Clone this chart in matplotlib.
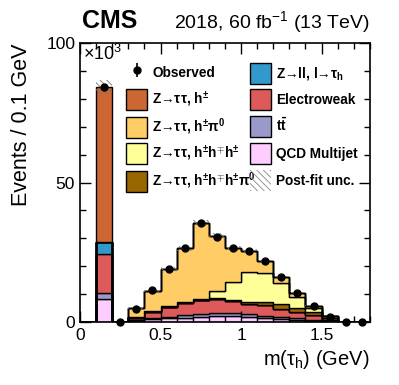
import numpy as np
import matplotlib
matplotlib.use("Agg")
import matplotlib.pyplot as plt
from matplotlib.patches import Patch
from matplotlib.ticker import MultipleLocator

plt.rcParams['font.family'] = ['Liberation Sans', 'DejaVu Sans']
plt.rcParams['mathtext.fontset'] = 'custom'
plt.rcParams['mathtext.rm'] = 'Liberation Sans'
plt.rcParams['mathtext.it'] = 'Liberation Sans:italic'
plt.rcParams['mathtext.bf'] = 'Liberation Sans:bold'
plt.rcParams['hatch.linewidth'] = 0.6

# bins of m(tau_h), 0 - 1.8 GeV in 0.1 steps (values in units of 10^3 events)
edges = np.round(np.arange(0, 1.81, 0.1), 2)

qcd = [0, 8.1, 0, 0.4, 1.0, 1.3, 1.6, 1.8, 2.0, 2.0, 1.8, 1.5, 1.2, 0.9, 0.5, 0.2, 0, 0]
ttbar = [0, 2.4, 0, 0.2, 0.4, 0.6, 0.8, 1.0, 1.1, 1.1, 1.0, 0.8, 0.7, 0.6, 0.4, 0.1, 0, 0]
ewk = [0, 13.8, 0, 1.0, 2.3, 3.4, 4.5, 5.0, 5.1, 4.6, 3.7, 3.7, 2.8, 2.0, 1.5, 0.5, 0, 0]
zll = [0, 4.5, 0, 0, 0, 0, 0, 0, 0, 0, 0, 0, 0, 0, 0, 0, 0, 0]
h3pi0 = [0, 0, 0, 0.2, 0.1, 0.1, 0.1, 0.2, 0.3, 0.3, 0.8, 1.3, 1.6, 1.6, 1.3, 0.8, 0, 0]
h3 = [0, 0, 0, 0, 0, 0.3, 0.3, 0.3, 2.7, 6.2, 10.7, 10.2, 7.6, 4.0, 1.2, 0.4, 0, 0]
h1pi0 = [0, 0, 0, 3.1, 7.4, 13.3, 19.1, 27.1, 19.8, 12.2, 7.4, 4.2, 2.1, 1.2, 1.0, 0.2, 0, 0]
h1 = [0, 55.3, 0, 0, 0, 0, 0, 0, 0, 0, 0, 0, 0, 0, 0, 0, 0, 0]

observed = [np.nan, 84.1, 0.05, 4.8, 11.4, 19.1, 26.4, 35.4, 30.6, 26.4, 25.3,
            21.9, 16.2, 10.3, 5.9, 1.9, 0.05, 0.05]

unc_frac = 0.03

lab_h1 = r"Z→ττ, h$^{\mathbf{\pm}}$"
lab_h1pi0 = r"Z→ττ, h$^{\mathbf{\pm}}$π$^{\mathbf{0}}$"
lab_h3 = r"Z→ττ, h$^{\mathbf{\pm}}$h$^{\mathbf{\mp}}$h$^{\mathbf{\pm}}$"
lab_h3pi0 = r"Z→ττ, h$^{\mathbf{\pm}}$h$^{\mathbf{\mp}}$h$^{\mathbf{\pm}}$π$^{\mathbf{0}}$"
lab_zll = r"Z→ll, l→τ$_{\mathbf{h}}$"
lab_tt = r"t$\mathbf{\bar{t}}$"

stack = [
    (qcd, "#ffccff", "QCD Multijet"),
    (ttbar, "#9999cc", lab_tt),
    (ewk, "#de5a5a", "Electroweak"),
    (zll, "#3399cc", lab_zll),
    (h3pi0, "#996600", lab_h3pi0),
    (h3, "#ffff99", lab_h3),
    (h1pi0, "#ffcc66", lab_h1pi0),
    (h1, "#cc6633", lab_h1),
]

fig = plt.figure(figsize=(3.99, 3.85), dpi=100)
ax = fig.add_axes([0.2005, 0.1636, 0.7265, 0.7247])

bottom = np.zeros(len(edges) - 1)
handles = {}
for vals, col, lab in stack:
    vals = np.array(vals, dtype=float)
    top = bottom + vals
    ax.stairs(top, edges, baseline=bottom, fill=True, facecolor=col,
              edgecolor="black", linewidth=1.0)
    handles[lab] = Patch(facecolor=col, edgecolor="black", linewidth=1.0, label=lab)
    bottom = top

total = bottom
ax.stairs(total * (1 + unc_frac), edges, baseline=total * (1 - unc_frac), fill=True,
          facecolor="none", edgecolor="#777777", hatch="\\\\\\\\\\", linewidth=0)
unc_patch = Patch(facecolor="none", edgecolor="#888888", hatch="\\\\\\\\\\",
                  linewidth=0, label="Post-fit unc.")

centers = 0.5 * (edges[:-1] + edges[1:])
obs = np.array(observed)
obs_err = np.sqrt(np.nan_to_num(obs) * 1000) / 1000
eb = ax.errorbar(centers, obs, yerr=obs_err, fmt="o", color="black", ms=5,
                 elinewidth=1.2, zorder=10, clip_on=False, label="Observed")

ax.set_xlim(0, 1.8)
ax.set_ylim(0, 100)
ax.xaxis.set_major_locator(MultipleLocator(0.5))
ax.xaxis.set_minor_locator(MultipleLocator(0.1))
ax.yaxis.set_major_locator(MultipleLocator(50))
ax.yaxis.set_minor_locator(MultipleLocator(10))
ax.xaxis.set_major_formatter(plt.FuncFormatter(lambda v, p: "%g" % v))
ax.tick_params(which="both", direction="in", top=True, right=True, labelsize=12.5, width=1.0)
ax.tick_params(which="major", length=8)
ax.tick_params(which="minor", length=4)
ax.tick_params(axis="x", pad=4)
for sp in ax.spines.values():
    sp.set_linewidth(1.2)

ax.set_xlabel(r"m(τ$_{\mathrm{h}}$) (GeV)", fontsize=14.5, loc="right")
ax.set_ylabel("Events / 0.1 GeV", fontsize=15.5, loc="top")
ax.yaxis.set_label_coords(-0.165, 1.0)
ax.text(0.01, 0.995, r"×10$^{3}$", transform=ax.transAxes, fontsize=13, va="top", ha="left")

fig.text(0.205, 0.927, "CMS", fontsize=18, fontweight="bold", ha="left", va="baseline")
fig.text(0.927, 0.927, r"2018, 60 fb$^{-1}$ (13 TeV)", fontsize=14, ha="right", va="baseline")

order = [eb, handles[lab_h1], handles[lab_h1pi0], handles[lab_h3], handles[lab_h3pi0],
         handles[lab_zll], handles["Electroweak"], handles[lab_tt], handles["QCD Multijet"],
         unc_patch]
labels = ["Observed", lab_h1, lab_h1pi0, lab_h3, lab_h3pi0,
          lab_zll, "Electroweak", lab_tt, "QCD Multijet", "Post-fit unc."]
ax.legend(order, labels, ncol=2, loc="upper left", bbox_to_anchor=(0.16, 0.93),
          frameon=False, prop={"weight": "bold", "size": 9.8}, handlelength=1.5,
          handleheight=2.0, labelspacing=0.43, columnspacing=-0.4, handletextpad=0.4,
          borderpad=0, borderaxespad=0)

fig.savefig("out.png", dpi=100)
